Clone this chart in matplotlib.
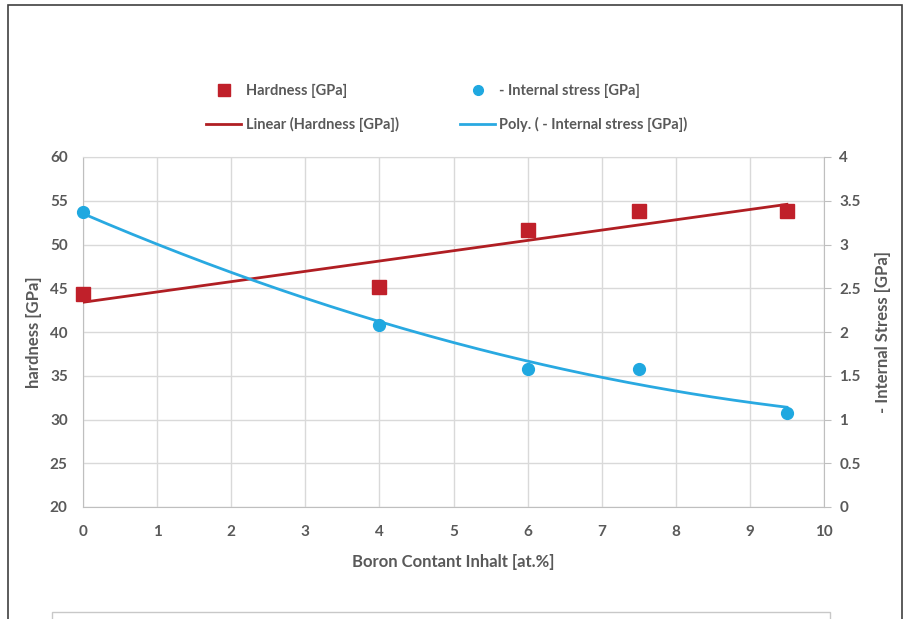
import numpy as np
import matplotlib
matplotlib.use("Agg")
import matplotlib.pyplot as plt
from matplotlib.patches import Rectangle
from matplotlib.lines import Line2D

boron = [0, 4, 6, 7.5, 9.5]
hardness = [44.3, 45.2, 51.7, 53.8, 53.8]
stress = [3.37, 2.08, 1.58, 1.58, 1.07]
x_ticks = list(range(0, 11))
left_ticks = [20, 25, 30, 35, 40, 45, 50, 55, 60]
right_ticks = [0, 0.5, 1, 1.5, 2, 2.5, 3, 3.5, 4]
right_labels = ["0", "0.5", "1", "1.5", "2", "2.5", "3", "3.5", "4"]

plt.rcParams['font.family'] = ['Lato', 'DejaVu Sans']
TXT = '#595959'
RED_M = '#c0202a'
RED_L = '#b01e23'
BLUE_M = '#1fa8e0'
BLUE_L = '#29a9e1'
GRID = '#d9d9d9'

fig = plt.figure(figsize=(9.1, 6.19), dpi=100)
fig.patches.append(Rectangle((8/910, -0.1), (902-8)/910, 1.1 - 5/619, transform=fig.transFigure,
                             fill=False, edgecolor='#404040', lw=1.2, zorder=0))
fig.patches.append(Rectangle((52/910, -0.1), (830-52)/910, 0.1 + (619-612)/619, transform=fig.transFigure,
                             fill=False, edgecolor='#c8c8c8', lw=1.0, zorder=0))

ax = fig.add_axes([83/910, 1-507/619, (824-83)/910, (507-157)/619])
ax2 = ax.twinx()

ax.set_xlim(0, 10)
ax.set_ylim(20, 60)
ax2.set_ylim(0, 4)
ax.set_xticks(x_ticks)
ax.set_yticks(left_ticks)
ax2.set_yticks(right_ticks)
ax2.set_yticklabels(right_labels)
ax.grid(True, color=GRID, lw=1.0)
ax.set_axisbelow(True)

for a in (ax, ax2):
    for s in a.spines.values():
        s.set_color('#bfbfbf')
    a.spines['top'].set_color(GRID)
ax.spines['right'].set_visible(False)
ax2.spines['left'].set_visible(False)
ax2.spines['top'].set_visible(False)
ax2.spines['bottom'].set_visible(False)

ax.tick_params(axis='x', length=0, labelsize=11, labelcolor=TXT, pad=13)
ax.tick_params(axis='y', length=0, labelsize=11, labelcolor=TXT, pad=11)
ax2.tick_params(axis='y', length=5, color='#bfbfbf', labelsize=11, labelcolor=TXT, pad=6)
for lab in ax.get_xticklabels() + ax.get_yticklabels() + ax2.get_yticklabels():
    lab.set_fontweight('bold')

# trendlines
xs = np.linspace(0, 9.5, 200)
lin = np.polyfit(boron, hardness, 1)
poly = np.polyfit(boron, stress, 2)
ax.plot(xs, np.polyval(lin, xs), color=RED_L, lw=2, zorder=3)
ax2.plot(xs, np.polyval(poly, xs), color=BLUE_L, lw=2, zorder=3)
ax.plot(boron, hardness, 's', color=RED_M, ms=10, zorder=4, clip_on=False)
ax2.plot(boron, stress, 'o', color=BLUE_M, ms=8.5, zorder=4, clip_on=False)

ax.set_xlabel('Boron Contant Inhalt [at.%]', fontsize=12, color=TXT, fontweight='bold', labelpad=11)
ax.set_ylabel('hardness [GPa]', fontsize=12, color=TXT, fontweight='bold', labelpad=6)
ax2.set_ylabel('- Internal Stress [GPa]', fontsize=12, color=TXT, fontweight='bold', labelpad=10)

handles = [Line2D([], [], marker='s', ls='none', color=RED_M, ms=8),
           Line2D([], [], color=RED_L, lw=2),
           Line2D([], [], marker='o', ls='none', color=BLUE_M, ms=7),
           Line2D([], [], color=BLUE_L, lw=2)]
labels = ['Hardness [GPa]', 'Linear (Hardness [GPa])',
          '- Internal stress [GPa]', 'Poly. ( - Internal stress [GPa])']
leg = fig.legend(handles, labels, ncol=2, loc='center', bbox_to_anchor=(447/910, 1-108/619),
                 frameon=False, fontsize=10.5, handlelength=2.4, columnspacing=4.2,
                 handletextpad=0.3, labelspacing=1.3)
for t in leg.get_texts():
    t.set_color(TXT)
    t.set_fontweight('bold')

fig.savefig('out.png', dpi=100)
